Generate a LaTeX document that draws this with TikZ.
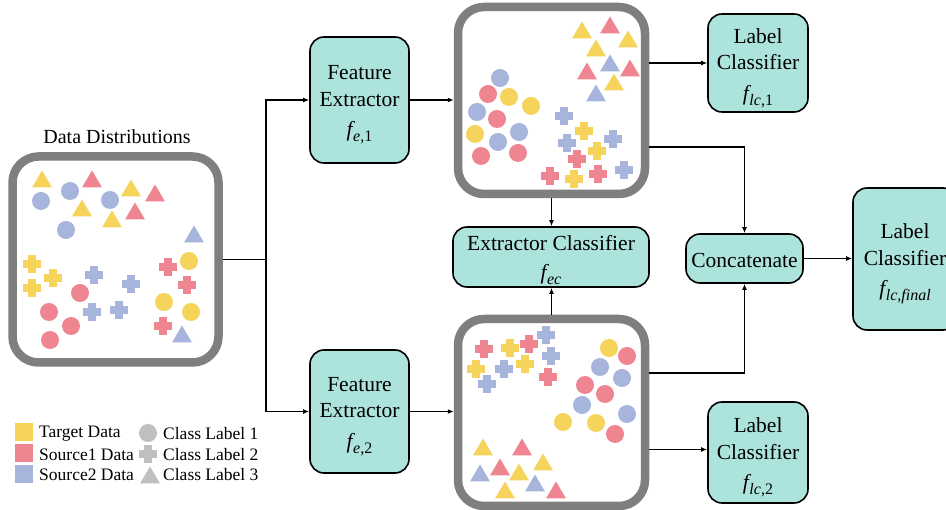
\documentclass[tikz,border=0pt]{standalone}
\usepackage{fontspec}
\setmainfont{Liberation Serif}
\usetikzlibrary{arrows.meta}
\definecolor{tyel}{HTML}{F6D35B}
\definecolor{sred}{HTML}{EF8590}
\definecolor{sblu}{HTML}{A7B5DC}
\definecolor{tealfill}{HTML}{ADE3DD}
\definecolor{framegray}{HTML}{7F7F7F}
\definecolor{leggray}{HTML}{BFBFBF}
\newcommand{\mycirc}[3]{\fill[#1] (#2,#3) circle (9pt);}
\newcommand{\myplus}[3]{\fill[#1] (#2,#3) ++(-9,-4) rectangle ++(18,8); \fill[#1] (#2,#3) ++(-4,-9) rectangle ++(8,18);}
\newcommand{\mytri}[3]{\fill[#1] (#2,#3) ++(-10,8.5) -- ++(20,0) -- ++(-10,-17) -- cycle;}
\newcommand{\fsub}[1]{{\itshape f}\kern0.5pt\raisebox{-5pt}{\fontsize{16}{16}\selectfont #1}}
\tikzset{
  frame/.style={draw=framegray, line width=8.5pt, rounded corners=26pt, fill=white, inner sep=0pt},
  proc/.style={draw=black, line width=1.6pt, fill=tealfill, rounded corners=14pt, inner sep=0pt},
  boxtext/.style={align=center, font=\fontsize{21.5}{26.5}\selectfont, inner sep=0pt},
  conn/.style={line width=1.5pt, -{Latex[length=6pt,width=5pt]}},
  plainline/.style={line width=1.5pt},
  legtext/.style={anchor=west, inner sep=0pt, font=\fontsize{17.5}{20}\selectfont},
}
\begin{document}
\begin{tikzpicture}[x=1pt,y=-1pt]
\useasboundingbox[fill=white] (0,0) rectangle (946,510);

% frames
\node[frame, minimum width=206pt, minimum height=206pt] (L) at (115.5,259.5) {};
\node[frame, minimum width=187pt, minimum height=187pt] (T) at (551.5,100.5) {};
\node[frame, minimum width=187pt, minimum height=187pt] (B) at (551.5,412.5) {};

\node[inner sep=0pt, font=\fontsize{20}{24}\selectfont] (title) at (117,137) {Data Distributions};

% processing boxes
\node[proc, minimum width=99pt, minimum height=126pt] (fe1) at (359.5,100) {};
\node[boxtext] (fe1t) at ([yshift=-5pt]fe1.center) {Feature\\Extractor\\[4pt]\fsub{\itshape e\upshape ,1}};
\node[proc, minimum width=99pt, minimum height=123pt] (fe2) at (359.5,411.5) {};
\node[boxtext] (fe2t) at ([yshift=-5pt]fe2.center) {Feature\\Extractor\\[4pt]\fsub{\itshape e\upshape ,2}};
\node[proc, minimum width=100pt, minimum height=98pt] (lc1) at (758,63) {};
\node[boxtext] (lc1t) at ([yshift=-5pt]lc1.center) {Label\\Classifier\\[4pt]\fsub{\itshape lc\upshape ,1}};
\node[proc, minimum width=100pt, minimum height=101pt] (lc2) at (758,452.5) {};
\node[boxtext] (lc2t) at ([yshift=-5pt]lc2.center) {Label\\Classifier\\[4pt]\fsub{\itshape lc\upshape ,2}};
\node[proc, minimum width=196pt, minimum height=60pt] (ec) at (551,257) {};
\node[boxtext] (ect) at ([yshift=-3pt]ec.center) {Extractor Classifier\\[3pt]\fsub{\itshape ec}};
\node[proc, minimum width=117pt, minimum height=49pt] (cat) at (744.5,258.5) {};
\node[boxtext] (catt) at ([yshift=-1.5pt]cat.center) {Concatenate};
\node[proc, minimum width=104pt, minimum height=142pt] (fin) at (905,259) {};
\node[boxtext] (fint) at ([yshift=-5pt]fin.center) {Label\\Classifier\\[4pt]\fsub{\itshape lc,final}};

% left box data
\mytri{tyel}{42}{179} \mytri{sred}{92}{179} \mytri{tyel}{131}{188} \mytri{sred}{155}{193}
\mytri{tyel}{82}{208} \mytri{sred}{135}{211} \mytri{tyel}{112}{219} \mytri{sblu}{194}{234}
\mycirc{sblu}{41}{201} \mycirc{sblu}{70}{191} \mycirc{sblu}{110}{200} \mycirc{sblu}{66}{230}
\myplus{tyel}{32}{264} \myplus{tyel}{53}{278} \myplus{tyel}{32}{288}
\myplus{sblu}{94}{275} \myplus{sblu}{131}{284} \myplus{sblu}{92}{312} \myplus{sblu}{119}{310}
\myplus{sred}{168}{267} \myplus{sred}{187}{285} \myplus{sred}{163}{326}
\mycirc{tyel}{189}{261} \mycirc{tyel}{164}{302} \mycirc{tyel}{191}{312}
\mycirc{sred}{80}{293} \mycirc{sred}{49}{312} \mycirc{sred}{71}{326} \mycirc{sred}{50}{340}
\mytri{sblu}{182}{334}

% top box data
\mytri{tyel}{582}{30} \mytri{sred}{610}{25} \mytri{tyel}{628}{39} \mytri{tyel}{596}{48}
\mytri{sblu}{610}{63} \mytri{sred}{587}{71} \mytri{sred}{630}{68} \mytri{tyel}{614}{82}
\mytri{sblu}{596}{93}
\mycirc{sblu}{500}{78} \mycirc{sred}{488}{94} \mycirc{tyel}{509}{97} \mycirc{tyel}{531}{106}
\mycirc{sblu}{477}{112} \mycirc{sred}{497}{119} \mycirc{tyel}{475}{134} \mycirc{sblu}{519}{132}
\mycirc{sblu}{498}{142} \mycirc{sred}{481}{156} \mycirc{sred}{518}{153}
\myplus{sblu}{564}{116} \myplus{tyel}{584}{131} \myplus{sblu}{567}{143} \myplus{sblu}{613}{139}
\myplus{tyel}{597}{151} \myplus{sred}{577}{159} \myplus{sred}{550}{176} \myplus{tyel}{574}{179}
\myplus{sred}{598}{174} \myplus{sblu}{624}{170}

% bottom box data
\myplus{sred}{484}{349} \myplus{tyel}{510}{348} \myplus{sred}{529}{344} \myplus{sblu}{546}{335}
\myplus{tyel}{476}{369} \myplus{sblu}{504}{369} \myplus{tyel}{525}{364} \myplus{sblu}{551}{356}
\myplus{sblu}{487}{384} \myplus{sred}{548}{377}
\mycirc{tyel}{609}{348} \mycirc{sred}{627}{356} \mycirc{sblu}{600}{367} \mycirc{sblu}{622}{378}
\mycirc{sred}{585}{385} \mycirc{sred}{605}{394} \mycirc{sblu}{582}{405} \mycirc{sblu}{627}{414}
\mycirc{tyel}{563}{422} \mycirc{tyel}{596}{423} \mycirc{sred}{615}{434}
\mytri{tyel}{483}{447} \mytri{sred}{522}{447} \mytri{tyel}{543}{462} \mytri{sred}{500}{467}
\mytri{sblu}{480}{473} \mytri{tyel}{519}{472} \mytri{sblu}{535}{483} \mytri{tyel}{505}{490}
\mytri{sred}{556}{490}

% connectors
\coordinate (j) at (266,259.5);
\draw[plainline] (L.east) -- (j);
\draw[conn] (j) |- (fe1.west);
\draw[conn] (j) |- (fe2.west);
\draw[conn] (fe1.east) -- (fe1.east -| T.west);
\draw[conn] (fe2.east) -- (fe2.east -| B.west);
\draw[conn] (lc1.west -| T.east) -- (lc1.west);
\draw[conn] ([yshift=-46.5pt]T.east) -| (cat.north);
\draw[conn] ([yshift=39.5pt]B.east) -| (cat.south);
\draw[conn] ([yshift=3pt]lc2.west -| B.east) -- ([yshift=3pt]lc2.west);
\draw[conn] (T.south) -- (T.south |- ec.north);
\draw[conn] (B.north) -- (B.north |- ec.south);
\draw[conn] (cat.east) -- (cat.east -| fin.west);

% legend
\fill[tyel] (15,423) rectangle (33,441);
\fill[sred] (15,444) rectangle (33,462);
\fill[sblu] (15,465) rectangle (33,483);
\node[legtext] (lg1) at (39,434) {Target Data};
\node[legtext] (lg2) at (39,455) {Source1 Data};
\node[legtext] (lg3) at (39,475) {Source2 Data};
\mycirc{leggray}{148}{433}
\myplus{leggray}{148}{454}
\mytri{leggray}{150}{475}
\node[legtext] (lg4) at (163,434) {Class Label 1};
\node[legtext] (lg5) at (163,455) {Class Label 2};
\node[legtext] (lg6) at (163,475) {Class Label 3};
\end{tikzpicture}
\end{document}
